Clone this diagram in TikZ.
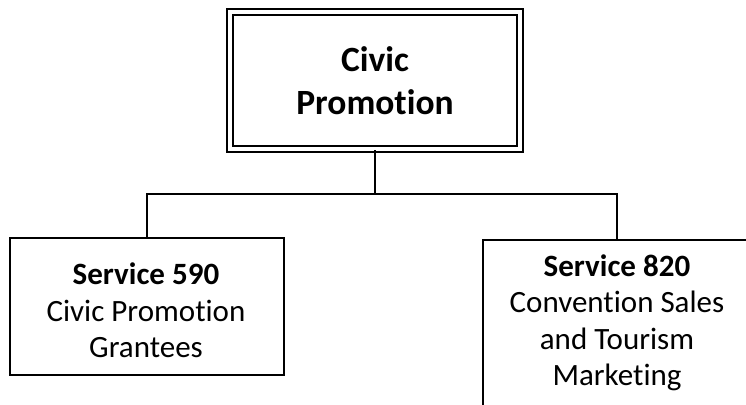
\documentclass[tikz,border=0pt]{standalone}
\usepackage{fontspec}
\setmainfont{Carlito}[Ligatures=NoCommon]
\begin{document}
\begin{tikzpicture}[x=1pt,y=-1pt,
  topbox/.style={draw, line width=2pt, double, double distance=3.5pt, minimum width=290pt, minimum height=137pt, inner sep=0pt, align=center, font=\fontsize{35.5}{43}\selectfont\bfseries},
  childbox/.style={draw, line width=1.3pt, inner sep=0pt},
  childtext/.style={align=center, inner sep=0pt, font=\fontsize{31}{36.5}\selectfont},
  conn/.style={line width=1.3pt}]
\clip (0,0) rectangle (746,404);
\node[topbox] (top) at (375,80.5) {Civic\\Promotion};
\node[childbox, minimum width=274pt, minimum height=137pt] (left) at (147,306.5) {};
\node[childtext] (lefttext) at (146,310.5) {\textbf{Service 590}\\Civic Promotion\\Grantees};
\node[childbox, minimum width=268pt, minimum height=180pt] (right) at (617,330) {};
\node[childtext] (righttext) at (617,323) {\textbf{Service 820}\\Convention Sales\\and Tourism\\Marketing};
\coordinate (j) at (375,194);
\draw[conn] (top.south) -- (j);
\draw[conn] (left.north) |- (j) -| (right.north);
\end{tikzpicture}
\end{document}
